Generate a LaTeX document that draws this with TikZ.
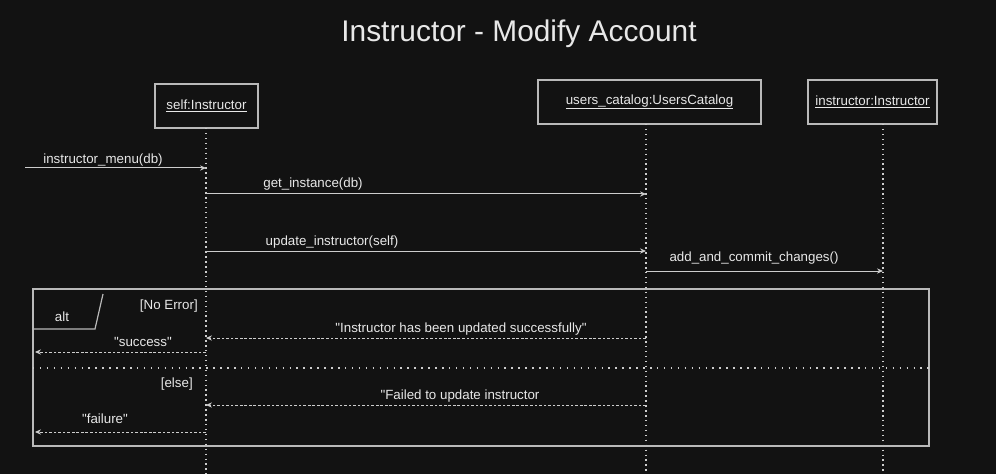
\documentclass[tikz,border=0pt]{standalone}
\usepackage{fontspec}
\setmainfont{Liberation Sans}[Ligatures=TeXOff]
\usetikzlibrary{arrows.meta}
\definecolor{bg}{RGB}{18,18,18}
\definecolor{linec}{RGB}{205,205,205}
\definecolor{boxc}{RGB}{185,185,185}
\definecolor{txt}{RGB}{232,232,232}
\begin{document}
\begin{tikzpicture}[x=0.75pt,y=-0.75pt,
  obj/.style={draw=boxc, line width=0.9pt, fill=bg, text=txt, font=\fontsize{10}{12}\selectfont, minimum height=33pt, inner sep=0pt},
  lifeline/.style={draw=linec, line width=0.9pt, dash pattern=on 1.1pt off 2.6pt},
  msg/.style={draw=linec, line width=0.75pt, -{Stealth[length=4.5pt,width=4pt]}},
  ret/.style={msg, dash pattern=on 2pt off 1.4pt},
  lbl/.style={text=txt, font=\fontsize{10}{12}\selectfont, inner sep=0pt},
  framebox/.style={draw=boxc, line width=0.9pt},
  sep/.style={draw=linec, line width=0.9pt, dash pattern=on 1.1pt off 4.1pt}]
\fill[bg] (0,0) rectangle (996,474);
\useasboundingbox (0,0) rectangle (996,474);

% title
\node[text=txt, font=\fontsize{22.4}{26}\selectfont, inner sep=0pt] (title) at (519,34) {Instructor - Modify Account};

% objects
\node[obj, minimum width=77.25pt] (self) at (206.5,106) {\underline{self:Instructor}};
\node[obj, minimum width=167.25pt] (cat) at (649.5,102) {\underline{users\_catalog:UsersCatalog}};
\node[obj, minimum width=96.75pt] (ins) at (872.5,102) {\underline{instructor:Instructor}};

% lifeline coordinates
\coordinate (sTop) at (206,128);
\coordinate (sBot) at (206,474);
\coordinate (cTop) at (646,124);
\coordinate (cBot) at (646,474);
\coordinate (iTop) at (883,124);
\coordinate (iBot) at (883,474);
\draw[lifeline] (sTop) -- (sBot);
\draw[lifeline] (cTop) -- (cBot);
\draw[lifeline] (iTop) -- (iBot);

% alt frame
\coordinate (fNW) at (33,289);
\coordinate (fSE) at (929,446);
\draw[framebox] (fNW) rectangle (fSE);
\coordinate (tab1) at (33,329);
\coordinate (tab2) at (95,329);
\coordinate (tab3) at (103,294);
\draw[framebox] (tab1) -- (tab2) -- (tab3);
\node[lbl] (altl) at (62,317) {alt};
\coordinate (sepL) at (33,368);
\coordinate (sepR) at (929,368);
\draw[sep] (sepL) -- (sepR);
\node[lbl, anchor=east] (noerr) at (198,306) {[No Error]};
\node[lbl, anchor=east] (else) at (193,384) {[else]};

% message endpoints
\coordinate (m1a) at (25,168);   \coordinate (m1b) at (206,168);
\coordinate (m2a) at (206,194);  \coordinate (m2b) at (646,194);
\coordinate (m3a) at (206,251);  \coordinate (m3b) at (646,251);
\coordinate (m4a) at (646,271);  \coordinate (m4b) at (883,271);
\coordinate (r1a) at (646,338);  \coordinate (r1b) at (206,338);
\coordinate (r2a) at (206,352);  \coordinate (r2b) at (35,352);
\coordinate (r3a) at (646,405);  \coordinate (r3b) at (206,405);
\coordinate (r4a) at (206,432);  \coordinate (r4b) at (35,432);

\draw[msg] (m1a) -- (m1b);
\draw[msg] (m2a) -- (m2b);
\draw[msg] (m3a) -- (m3b);
\draw[msg] (m4a) -- (m4b);
\draw[ret] (r1a) -- (r1b);
\draw[ret] (r2a) -- (r2b);
\draw[ret] (r3a) -- (r3b);
\draw[ret] (r4a) -- (r4b);

% labels
\node[lbl] (l1) at (103,160) {instructor\_menu(db)};
\node[lbl] (l2) at (313,184) {get\_instance(db)};
\node[lbl] (l3) at (332,242) {update\_instructor(self)};
\node[lbl] (l4) at (754,258) {add\_and\_commit\_changes()};
\node[lbl] (l5) at (461,329) {"Instructor has been updated successfully"};
\node[lbl] (l6) at (143,342) {"success"};
\node[lbl] (l7) at (460,396) {"Failed to update instructor};
\node[lbl] (l8) at (105,419) {"failure"};
\end{tikzpicture}
\end{document}
